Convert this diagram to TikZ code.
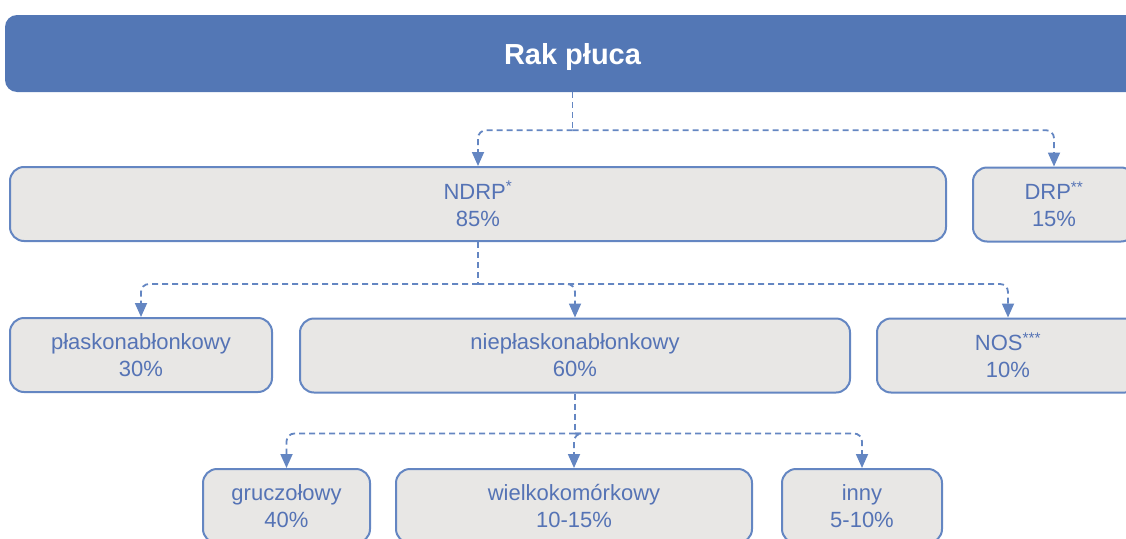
\documentclass[tikz,border=0pt]{standalone}
\usepackage{fontspec}
\setmainfont{Liberation Sans}
\usetikzlibrary{arrows.meta,calc}
\definecolor{topblue}{HTML}{5377B5}
\definecolor{boxfill}{HTML}{E8E7E5}
\definecolor{edge}{HTML}{6486C2}
\definecolor{txt}{HTML}{5573B5}
\tikzset{
  box/.style={draw=edge, line width=2pt, fill=boxfill, rounded corners=14pt,
    text=txt, align=center, font=\fontsize{22}{27}\selectfont, inner sep=0pt},
  topbox/.style={fill=topblue, rounded corners=12pt, text=white,
    font=\fontsize{29}{34}\selectfont\bfseries, inner sep=0pt},
  conn/.style={draw=edge, line width=1.8pt, dash pattern=on 6pt off 4pt,
    rounded corners=8pt, -{Triangle[width=12pt,length=14pt]}},
  stem/.style={draw=edge, line width=1.8pt, dash pattern=on 6pt off 4pt}
}
\begin{document}
\begin{tikzpicture}[x=1pt,y=-1pt]
\useasboundingbox (0,0) rectangle (1126,538);
\clip (0,0) rectangle (1126,538);
% top
\node[topbox, minimum width=1135pt, minimum height=77pt] (top) at (572.5,53.5)
  {\raisebox{-3.5pt}[\height][\depth]{Rak płuca}};
% level 1
\node[box, minimum width=936pt, minimum height=74pt] (ndrp) at (478,204) {NDRP\textsuperscript{*}\\85\%};
\node[box, minimum width=162pt, minimum height=74pt] (drp) at (1054,204.5) {DRP\textsuperscript{**}\\15\%};
% level 2
\node[box, minimum width=262pt, minimum height=74pt] (pl) at (141,355) {płaskonabłonkowy\\30\%};
\node[box, minimum width=550pt, minimum height=74pt] (npl) at (575,355.5) {niepłaskonabłonkowy\\60\%};
\node[box, minimum width=262pt, minimum height=74pt] (nos) at (1008,355.5) {NOS\textsuperscript{***}\\10\%};
% level 3
\node[box, minimum width=167pt, minimum height=74pt] (gr) at (286.5,506) {gruczołowy\\40\%};
\node[box, minimum width=356pt, minimum height=74pt] (wk) at (574,506) {wielkokomórkowy\\10-15\%};
\node[box, minimum width=160pt, minimum height=74pt] (inny) at (862,506) {inny\\5-10\%};
% connectors
\coordinate (j1) at ($(top.south)+(0,38)$);
\draw[stem] (top.south) -- (j1);
\draw[conn] (j1) -| (ndrp.north);
\draw[conn] (j1) -| (drp.north);
\coordinate (j2) at ($(ndrp.south)+(0,42)$);
\draw[stem] (ndrp.south) -- (j2);
\draw[conn] (j2) -| (pl.north);
\draw[conn] (j2) -| (npl.north);
\draw[conn] (j2) -| (nos.north);
\coordinate (j3) at ($(npl.south)+(0,40)$);
\draw[stem] (npl.south) -- (j3);
\draw[conn] (j3) -| (gr.north);
\draw[conn] (j3) -| (wk.north);
\draw[conn] (j3) -| (inny.north);
\end{tikzpicture}
\end{document}
